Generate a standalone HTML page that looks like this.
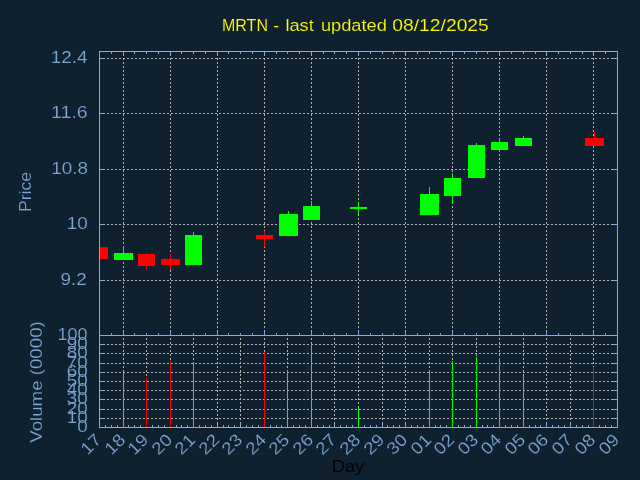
<!DOCTYPE html><html><head><meta charset="utf-8"><title>MRTN</title><style>
html,body{margin:0;padding:0;background:#0f202e;overflow:hidden}svg{display:block;will-change:transform}
text{font-family:"Liberation Sans",sans-serif;stroke:#0f202e;stroke-width:0.15}
</style></head><body>
<svg width="640" height="480" viewBox="0 0 640 480">
<rect x="0" y="0" width="640" height="480" fill="#0f202e"/>
<g stroke="#b2b0ac" stroke-width="1" stroke-dasharray="2 2" fill="none">
<path d="M99.0 58.5H617.5"/>
<path d="M99.0 113.5H617.5"/>
<path d="M99.0 169.5H617.5"/>
<path d="M99.0 224.5H617.5"/>
<path d="M99.0 280.5H617.5"/>
<path d="M123.5 336.0V51.5"/>
<path d="M170.5 336.0V51.5"/>
<path d="M217.5 336.0V51.5"/>
<path d="M264.5 336.0V51.5"/>
<path d="M311.5 336.0V51.5"/>
<path d="M358.5 336.0V51.5"/>
<path d="M405.5 336.0V51.5"/>
<path d="M452.5 336.0V51.5"/>
<path d="M499.5 336.0V51.5"/>
<path d="M546.5 336.0V51.5"/>
<path d="M593.5 336.0V51.5"/>
<path d="M99.0 344.5H617.5"/>
<path d="M99.0 353.5H617.5"/>
<path d="M99.0 363.5H617.5"/>
<path d="M99.0 372.5H617.5"/>
<path d="M99.0 381.5H617.5"/>
<path d="M99.0 390.5H617.5"/>
<path d="M99.0 399.5H617.5"/>
<path d="M99.0 409.5H617.5"/>
<path d="M99.0 418.5H617.5"/>
<path d="M123.5 428.0V335.5"/>
<path d="M146.5 428.0V335.5"/>
<path d="M170.5 428.0V335.5"/>
<path d="M193.5 428.0V335.5"/>
<path d="M217.5 428.0V335.5"/>
<path d="M240.5 428.0V335.5"/>
<path d="M264.5 428.0V335.5"/>
<path d="M287.5 428.0V335.5"/>
<path d="M311.5 428.0V335.5"/>
<path d="M334.5 428.0V335.5"/>
<path d="M358.5 428.0V335.5"/>
<path d="M382.5 428.0V335.5"/>
<path d="M405.5 428.0V335.5"/>
<path d="M429.5 428.0V335.5"/>
<path d="M452.5 428.0V335.5"/>
<path d="M476.5 428.0V335.5"/>
<path d="M499.5 428.0V335.5"/>
<path d="M523.5 428.0V335.5"/>
<path d="M546.5 428.0V335.5"/>
<path d="M570.5 428.0V335.5"/>
<path d="M593.5 428.0V335.5"/>
</g>
<g shape-rendering="crispEdges">
<rect x="100" y="247" width="8" height="12" fill="#ff0000"/>
<rect x="123" y="246" width="1" height="14" fill="#00ff00"/>
<rect x="114" y="253" width="19" height="7" fill="#00ff00"/>
<rect x="146" y="253" width="1" height="17" fill="#ff0000"/>
<rect x="138" y="254" width="17" height="12" fill="#ff0000"/>
<rect x="170" y="254" width="1" height="16" fill="#ff0000"/>
<rect x="161" y="259" width="19" height="6" fill="#ff0000"/>
<rect x="193" y="232" width="1" height="33" fill="#00ff00"/>
<rect x="185" y="235" width="17" height="30" fill="#00ff00"/>
<rect x="264" y="231" width="1" height="16" fill="#ff0000"/>
<rect x="256" y="235" width="17" height="4" fill="#ff0000"/>
<rect x="288" y="211" width="1" height="25" fill="#00ff00"/>
<rect x="279" y="214" width="19" height="22" fill="#00ff00"/>
<rect x="311" y="201" width="1" height="19" fill="#00ff00"/>
<rect x="303" y="206" width="17" height="14" fill="#00ff00"/>
<rect x="358" y="202" width="1" height="13" fill="#00ff00"/>
<rect x="350" y="207" width="17" height="2" fill="#00ff00"/>
<rect x="429" y="187" width="1" height="28" fill="#00ff00"/>
<rect x="420" y="194" width="19" height="21" fill="#00ff00"/>
<rect x="452" y="173" width="1" height="30" fill="#00ff00"/>
<rect x="444" y="178" width="17" height="18" fill="#00ff00"/>
<rect x="476" y="143" width="1" height="35" fill="#00ff00"/>
<rect x="468" y="145" width="17" height="33" fill="#00ff00"/>
<rect x="499" y="139" width="1" height="13" fill="#00ff00"/>
<rect x="491" y="142" width="17" height="8" fill="#00ff00"/>
<rect x="523" y="136" width="1" height="10" fill="#00ff00"/>
<rect x="515" y="138" width="17" height="8" fill="#00ff00"/>
<rect x="594" y="132" width="1" height="14" fill="#ff0000"/>
<rect x="585" y="138" width="19" height="8" fill="#ff0000"/>
</g>
<g stroke="#7aaee6" stroke-width="1" fill="none" shape-rendering="crispEdges">
<path stroke-linecap="square" d="M99.5 51.5H617.5V335.5H99.5Z"/>
<path stroke-linecap="square" d="M99.5 335.5V427.5H617.5V335.5"/>
<path d="M99.5 58.5h4.5M617.5 58.5h-4.5"/>
<path d="M99.5 113.5h4.5M617.5 113.5h-4.5"/>
<path d="M99.5 169.5h4.5M617.5 169.5h-4.5"/>
<path d="M99.5 224.5h4.5M617.5 224.5h-4.5"/>
<path d="M99.5 280.5h4.5M617.5 280.5h-4.5"/>
<path d="M99.5 344.5h4.5M617.5 344.5h-4.5"/>
<path d="M99.5 353.5h4.5M617.5 353.5h-4.5"/>
<path d="M99.5 363.5h4.5M617.5 363.5h-4.5"/>
<path d="M99.5 372.5h4.5M617.5 372.5h-4.5"/>
<path d="M99.5 381.5h4.5M617.5 381.5h-4.5"/>
<path d="M99.5 390.5h4.5M617.5 390.5h-4.5"/>
<path d="M99.5 399.5h4.5M617.5 399.5h-4.5"/>
<path d="M99.5 409.5h4.5M617.5 409.5h-4.5"/>
<path d="M99.5 418.5h4.5M617.5 418.5h-4.5"/>
<path d="M111.5 51.5v2.5M111.5 335.5v-2.5M123.5 51.5v4.5M123.5 335.5v-4.5M134.5 51.5v2.5M134.5 335.5v-2.5M146.5 51.5v2.5M146.5 335.5v-2.5M158.5 51.5v2.5M158.5 335.5v-2.5M170.5 51.5v4.5M170.5 335.5v-4.5M181.5 51.5v2.5M181.5 335.5v-2.5M193.5 51.5v2.5M193.5 335.5v-2.5M205.5 51.5v2.5M205.5 335.5v-2.5M217.5 51.5v4.5M217.5 335.5v-4.5M228.5 51.5v2.5M228.5 335.5v-2.5M240.5 51.5v2.5M240.5 335.5v-2.5M252.5 51.5v2.5M252.5 335.5v-2.5M264.5 51.5v4.5M264.5 335.5v-4.5M276.5 51.5v2.5M276.5 335.5v-2.5M287.5 51.5v2.5M287.5 335.5v-2.5M299.5 51.5v2.5M299.5 335.5v-2.5M311.5 51.5v4.5M311.5 335.5v-4.5M323.5 51.5v2.5M323.5 335.5v-2.5M334.5 51.5v2.5M334.5 335.5v-2.5M346.5 51.5v2.5M346.5 335.5v-2.5M358.5 51.5v4.5M358.5 335.5v-4.5M370.5 51.5v2.5M370.5 335.5v-2.5M382.5 51.5v2.5M382.5 335.5v-2.5M393.5 51.5v2.5M393.5 335.5v-2.5M405.5 51.5v4.5M405.5 335.5v-4.5M417.5 51.5v2.5M417.5 335.5v-2.5M429.5 51.5v2.5M429.5 335.5v-2.5M440.5 51.5v2.5M440.5 335.5v-2.5M452.5 51.5v4.5M452.5 335.5v-4.5M464.5 51.5v2.5M464.5 335.5v-2.5M476.5 51.5v2.5M476.5 335.5v-2.5M487.5 51.5v2.5M487.5 335.5v-2.5M499.5 51.5v4.5M499.5 335.5v-4.5M511.5 51.5v2.5M511.5 335.5v-2.5M523.5 51.5v2.5M523.5 335.5v-2.5M535.5 51.5v2.5M535.5 335.5v-2.5M546.5 51.5v4.5M546.5 335.5v-4.5M558.5 51.5v2.5M558.5 335.5v-2.5M570.5 51.5v2.5M570.5 335.5v-2.5M582.5 51.5v2.5M582.5 335.5v-2.5M593.5 51.5v4.5M593.5 335.5v-4.5M605.5 51.5v2.5M605.5 335.5v-2.5"/>
<path d="M105.5 427.5v-2.5M111.5 427.5v-2.5M117.5 427.5v-2.5M123.5 427.5v-4.5M128.5 427.5v-2.5M134.5 427.5v-2.5M140.5 427.5v-2.5M146.5 427.5v-4.5M152.5 427.5v-2.5M158.5 427.5v-2.5M164.5 427.5v-2.5M170.5 427.5v-4.5M176.5 427.5v-2.5M181.5 427.5v-2.5M187.5 427.5v-2.5M193.5 427.5v-4.5M199.5 427.5v-2.5M205.5 427.5v-2.5M211.5 427.5v-2.5M217.5 427.5v-4.5M223.5 427.5v-2.5M228.5 427.5v-2.5M234.5 427.5v-2.5M240.5 427.5v-4.5M246.5 427.5v-2.5M252.5 427.5v-2.5M258.5 427.5v-2.5M264.5 427.5v-4.5M270.5 427.5v-2.5M276.5 427.5v-2.5M281.5 427.5v-2.5M287.5 427.5v-4.5M293.5 427.5v-2.5M299.5 427.5v-2.5M305.5 427.5v-2.5M311.5 427.5v-4.5M317.5 427.5v-2.5M323.5 427.5v-2.5M329.5 427.5v-2.5M334.5 427.5v-4.5M340.5 427.5v-2.5M346.5 427.5v-2.5M352.5 427.5v-2.5M358.5 427.5v-4.5M364.5 427.5v-2.5M370.5 427.5v-2.5M376.5 427.5v-2.5M382.5 427.5v-4.5M387.5 427.5v-2.5M393.5 427.5v-2.5M399.5 427.5v-2.5M405.5 427.5v-4.5M411.5 427.5v-2.5M417.5 427.5v-2.5M423.5 427.5v-2.5M429.5 427.5v-4.5M435.5 427.5v-2.5M440.5 427.5v-2.5M446.5 427.5v-2.5M452.5 427.5v-4.5M458.5 427.5v-2.5M464.5 427.5v-2.5M470.5 427.5v-2.5M476.5 427.5v-4.5M482.5 427.5v-2.5M487.5 427.5v-2.5M493.5 427.5v-2.5M499.5 427.5v-4.5M505.5 427.5v-2.5M511.5 427.5v-2.5M517.5 427.5v-2.5M523.5 427.5v-4.5M529.5 427.5v-2.5M535.5 427.5v-2.5M540.5 427.5v-2.5M546.5 427.5v-4.5M552.5 427.5v-2.5M558.5 427.5v-2.5M564.5 427.5v-2.5M570.5 427.5v-4.5M576.5 427.5v-2.5M582.5 427.5v-2.5M588.5 427.5v-2.5M593.5 427.5v-4.5M599.5 427.5v-2.5M605.5 427.5v-2.5M611.5 427.5v-2.5"/>
</g>
<g shape-rendering="crispEdges">
<rect x="123" y="373" width="1" height="54" fill="#00ff00"/>
<rect x="146" y="378" width="1" height="49" fill="#ff0000"/>
<rect x="170" y="361" width="1" height="66" fill="#ff0000"/>
<rect x="193" y="363" width="1" height="64" fill="#00ff00"/>
<rect x="264" y="352" width="1" height="75" fill="#ff0000"/>
<rect x="287" y="370" width="1" height="57" fill="#00ff00"/>
<rect x="311" y="344" width="1" height="83" fill="#00ff00"/>
<rect x="358" y="407" width="1" height="20" fill="#00ff00"/>
<rect x="429" y="370" width="1" height="57" fill="#00ff00"/>
<rect x="452" y="361" width="1" height="66" fill="#00ff00"/>
<rect x="476" y="357" width="1" height="70" fill="#00ff00"/>
<rect x="499" y="358" width="1" height="69" fill="#00ff00"/>
<rect x="523" y="376" width="1" height="51" fill="#00ff00"/>
<rect x="593" y="367" width="1" height="60" fill="#ff0000"/>
</g>
<g fill="#7fa5d5" font-size="17.0">
<text x="50.76" y="63.00" textLength="36.74" lengthAdjust="spacingAndGlyphs">12.4</text>
<text x="51.06" y="118.00" textLength="36.74" lengthAdjust="spacingAndGlyphs">11.6</text>
<text x="51.26" y="174.00" textLength="36.74" lengthAdjust="spacingAndGlyphs">10.8</text>
<text x="66.70" y="229.00" textLength="21.00" lengthAdjust="spacingAndGlyphs">10</text>
<text x="60.46" y="285.00" textLength="26.24" lengthAdjust="spacingAndGlyphs">9.2</text>
<text x="57.61" y="340.10" textLength="29.89" lengthAdjust="spacingAndGlyphs">100</text>
<text x="66.70" y="349.10" textLength="21.00" lengthAdjust="spacingAndGlyphs">90</text>
<text x="66.70" y="358.10" textLength="21.00" lengthAdjust="spacingAndGlyphs">80</text>
<text x="66.70" y="368.10" textLength="21.00" lengthAdjust="spacingAndGlyphs">70</text>
<text x="66.70" y="377.10" textLength="21.00" lengthAdjust="spacingAndGlyphs">60</text>
<text x="66.70" y="386.10" textLength="21.00" lengthAdjust="spacingAndGlyphs">50</text>
<text x="66.70" y="395.10" textLength="21.00" lengthAdjust="spacingAndGlyphs">40</text>
<text x="66.70" y="404.10" textLength="21.00" lengthAdjust="spacingAndGlyphs">30</text>
<text x="66.70" y="414.10" textLength="21.00" lengthAdjust="spacingAndGlyphs">20</text>
<text x="66.70" y="423.10" textLength="21.00" lengthAdjust="spacingAndGlyphs">10</text>
<text x="77.20" y="432.10" textLength="10.50" lengthAdjust="spacingAndGlyphs">0</text>
<text transform="translate(102.40 440.80) rotate(-45)" x="-21.00" textLength="21.00" lengthAdjust="spacingAndGlyphs">17</text>
<text transform="translate(126.40 440.80) rotate(-45)" x="-21.00" textLength="21.00" lengthAdjust="spacingAndGlyphs">18</text>
<text transform="translate(149.40 440.80) rotate(-45)" x="-21.00" textLength="21.00" lengthAdjust="spacingAndGlyphs">19</text>
<text transform="translate(173.40 440.80) rotate(-45)" x="-21.00" textLength="21.00" lengthAdjust="spacingAndGlyphs">20</text>
<text transform="translate(196.40 440.80) rotate(-45)" x="-21.00" textLength="21.00" lengthAdjust="spacingAndGlyphs">21</text>
<text transform="translate(220.40 440.80) rotate(-45)" x="-21.00" textLength="21.00" lengthAdjust="spacingAndGlyphs">22</text>
<text transform="translate(243.40 440.80) rotate(-45)" x="-21.00" textLength="21.00" lengthAdjust="spacingAndGlyphs">23</text>
<text transform="translate(267.40 440.80) rotate(-45)" x="-21.00" textLength="21.00" lengthAdjust="spacingAndGlyphs">24</text>
<text transform="translate(290.40 440.80) rotate(-45)" x="-21.00" textLength="21.00" lengthAdjust="spacingAndGlyphs">25</text>
<text transform="translate(314.40 440.80) rotate(-45)" x="-21.00" textLength="21.00" lengthAdjust="spacingAndGlyphs">26</text>
<text transform="translate(337.40 440.80) rotate(-45)" x="-21.00" textLength="21.00" lengthAdjust="spacingAndGlyphs">27</text>
<text transform="translate(361.40 440.80) rotate(-45)" x="-21.00" textLength="21.00" lengthAdjust="spacingAndGlyphs">28</text>
<text transform="translate(385.40 440.80) rotate(-45)" x="-21.00" textLength="21.00" lengthAdjust="spacingAndGlyphs">29</text>
<text transform="translate(408.40 440.80) rotate(-45)" x="-21.00" textLength="21.00" lengthAdjust="spacingAndGlyphs">30</text>
<text transform="translate(432.40 440.80) rotate(-45)" x="-21.00" textLength="21.00" lengthAdjust="spacingAndGlyphs">01</text>
<text transform="translate(455.40 440.80) rotate(-45)" x="-21.00" textLength="21.00" lengthAdjust="spacingAndGlyphs">02</text>
<text transform="translate(479.40 440.80) rotate(-45)" x="-21.00" textLength="21.00" lengthAdjust="spacingAndGlyphs">03</text>
<text transform="translate(502.40 440.80) rotate(-45)" x="-21.00" textLength="21.00" lengthAdjust="spacingAndGlyphs">04</text>
<text transform="translate(526.40 440.80) rotate(-45)" x="-21.00" textLength="21.00" lengthAdjust="spacingAndGlyphs">05</text>
<text transform="translate(549.40 440.80) rotate(-45)" x="-21.00" textLength="21.00" lengthAdjust="spacingAndGlyphs">06</text>
<text transform="translate(573.40 440.80) rotate(-45)" x="-21.00" textLength="21.00" lengthAdjust="spacingAndGlyphs">07</text>
<text transform="translate(596.40 440.80) rotate(-45)" x="-21.00" textLength="21.00" lengthAdjust="spacingAndGlyphs">08</text>
<text transform="translate(620.40 440.80) rotate(-45)" x="-21.00" textLength="21.00" lengthAdjust="spacingAndGlyphs">09</text>
<text transform="translate(31.00 192.00) rotate(-90)" x="-20.13" textLength="40.25" lengthAdjust="spacingAndGlyphs">Price</text>
<text transform="translate(42.20 382.00) rotate(-90)" x="-60.74" textLength="121.48" lengthAdjust="spacingAndGlyphs">Volume (0000)</text>
</g>
<g font-size="17.0">
<text x="331.71" y="471.50" textLength="32.58" lengthAdjust="spacingAndGlyphs" fill="#000">Day</text>
<text y="30.7" fill="#ffff00"><tspan x="222.04" textLength="45.92" lengthAdjust="spacingAndGlyphs">MRTN</tspan> <tspan x="273.20" textLength="5.95" lengthAdjust="spacingAndGlyphs">-</tspan> <tspan x="285.40" textLength="28.46" lengthAdjust="spacingAndGlyphs">last</tspan> <tspan x="320.91" textLength="66.01" lengthAdjust="spacingAndGlyphs">updated</tspan> <tspan x="392.26" textLength="96.60" lengthAdjust="spacingAndGlyphs">08/12/2025</tspan></text>
</g>
</svg></body></html>
